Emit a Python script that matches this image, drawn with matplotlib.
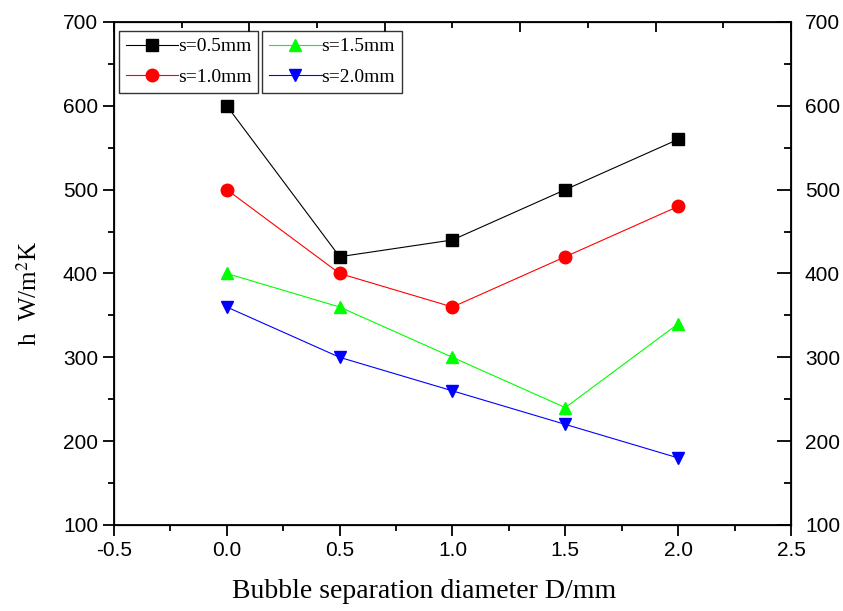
import numpy as np
import matplotlib.pyplot as plt
from matplotlib.ticker import MultipleLocator, FixedLocator

# data
D = [0.0, 0.5, 1.0, 1.5, 2.0]
h_s05 = [600, 420, 440, 500, 560]
h_s10 = [500, 400, 360, 420, 480]
h_s15 = [400, 360, 300, 240, 340]
h_s20 = [360, 300, 260, 220, 180]
labels = ["s=0.5mm", "s=1.0mm", "s=1.5mm", "s=2.0mm"]

serif = "Liberation Serif"
sans = "Liberation Sans"
plt.rcParams["mathtext.fontset"] = "stix"
plt.rcParams["axes.unicode_minus"] = False

fig = plt.figure(figsize=(8.43, 6.11), dpi=100)
ax = fig.add_axes([0.1352, 0.1408, 0.8031, 0.8232])

l1, = ax.plot(D, h_s05, color="black", lw=0.8, marker="s", ms=8)
l2, = ax.plot(D, h_s10, color="#ff0000", lw=0.8, marker="o", ms=9)
l3, = ax.plot(D, h_s15, color="#00ff00", lw=0.8, marker="^", ms=9)
l4, = ax.plot(D, h_s20, color="#0000ff", lw=0.8, marker="v", ms=9)

ax.set_xlim(-0.5, 2.5)
ax.set_ylim(100, 700)
ax.xaxis.set_major_locator(MultipleLocator(0.5))
ax.xaxis.set_minor_locator(MultipleLocator(0.25))
ax.yaxis.set_major_locator(MultipleLocator(100))
ax.yaxis.set_minor_locator(MultipleLocator(50))
ax.tick_params(which="both", direction="out", width=1.3, labelsize=15)
ax.tick_params(which="major", length=8)
ax.tick_params(which="minor", length=4)
for lab in ax.get_xticklabels() + ax.get_yticklabels():
    lab.set_family(sans)
for sp in ax.spines.values():
    sp.set_linewidth(1.3)

# right axis, same scale, ticks inside
axr = ax.twinx()
axr.set_ylim(100, 700)
axr.yaxis.set_major_locator(MultipleLocator(100))
axr.yaxis.set_minor_locator(MultipleLocator(50))
axr.tick_params(which="both", direction="in", width=1.3, labelsize=15, pad=10)
axr.tick_params(which="major", length=10)
axr.tick_params(which="minor", length=5)
for lab in axr.get_yticklabels():
    lab.set_family(sans)

# top axis, ticks inside, no labels
axt = ax.twiny()
axt.set_xlim(-0.5, 2.5)
axt.xaxis.set_major_locator(FixedLocator(np.linspace(-0.5, 2.5, 6)))
axt.xaxis.set_minor_locator(FixedLocator(np.linspace(-0.2, 2.2, 5)))
axt.tick_params(which="both", direction="in", width=1.3, labeltop=False)
axt.tick_params(which="major", length=7)
axt.tick_params(which="minor", length=4)

ax.set_xlabel("Bubble separation diameter D/mm", family=serif, fontsize=20)
ax.xaxis.set_label_coords(0.458, -0.107)
ax.set_ylabel("h  W/m$^2$K", family=serif, fontsize=18)
ax.yaxis.set_label_coords(-0.106, 0.461)

leg_kw = dict(loc="upper left", prop={"family": serif, "size": 14}, frameon=True,
              fancybox=False, edgecolor="black", handlelength=2.7, handletextpad=0.0,
              borderpad=0.35, labelspacing=0.65, borderaxespad=0)
leg1 = axt.legend([l1, l2], labels[:2], bbox_to_anchor=(0.007, 0.982), **leg_kw)
leg1.get_frame().set_linewidth(1.0)
axt.add_artist(leg1)
leg2 = axt.legend([l3, l4], labels[2:], bbox_to_anchor=(0.219, 0.982), **leg_kw)
leg2.get_frame().set_linewidth(1.0)

fig.savefig("out.png", dpi=100)
